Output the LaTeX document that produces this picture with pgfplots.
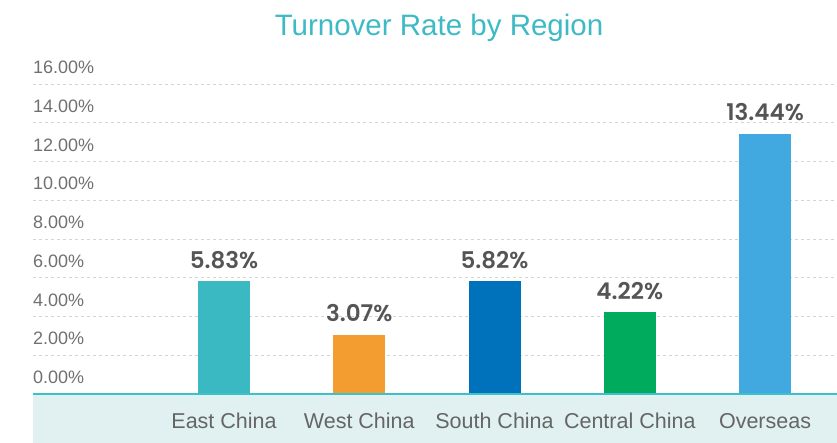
\documentclass[border=0pt]{standalone}
\usepackage{pgfplots}
\pgfplotsset{compat=1.18}
\usepackage{fontspec}
\setmainfont{Liberation Sans}
\newfontfamily\valfont{Poppins}[UprightFont=* SemiBold]
\definecolor{cEast}{HTML}{3BB9C2}
\definecolor{cWest}{HTML}{F39C2F}
\definecolor{cSouth}{HTML}{0071BB}
\definecolor{cCentral}{HTML}{00AB5E}
\definecolor{cOver}{HTML}{42A8E0}
\definecolor{titlec}{HTML}{3DBAC4}
\definecolor{basec}{HTML}{3CC0CA}
\definecolor{bandc}{HTML}{E1F1F2}
\definecolor{tickc}{HTML}{707070}
\definecolor{valc}{HTML}{555555}
\definecolor{gridc}{HTML}{D4D4D4}
\begin{document}
\begin{tikzpicture}
\begin{axis}[
  set layers,
  at={(33pt,0pt)}, anchor=south west,
  scale only axis, width=804pt, height=359pt,
  xmin=-1.412, xmax=4.532,
  ymin=-2.53, ymax=16,
  axis line style={draw=none},
  major tick length=0pt,
  ytick={0,2,4,6,8,10,12,14,16},
  yticklabels={0.00\%,2.00\%,4.00\%,6.00\%,8.00\%,10.00\%,12.00\%,14.00\%,16.00\%},
  yticklabel style={anchor=south west, inner sep=0pt, xshift=0pt, yshift=10pt, font=\fontsize{18}{21}\selectfont, text=tickc},
  xtick={0,1,2,3,4},
  xticklabels={East China,West China,South China,Central China,Overseas},
  xticklabel style={anchor=center, inner sep=0pt, yshift=22pt, font=\fontsize{21.5}{25}\selectfont, text=tickc!90!black},
  ymajorgrids,
  grid style={dashed, gridc, line width=0.8pt},
  ybar, bar width=52pt, bar shift=0pt,
  clip=false,
  nodes near coords={\pgfmathprintnumber[fixed,fixed zerofill,precision=2]{\pgfplotspointmeta}\%},
  nodes near coords style={font=\valfont\fontsize{23}{26}\selectfont, text=valc, anchor=south, yshift=9pt},
  /pgf/number format/assume math mode=true,
]
\begin{pgfonlayer}{axis background}
\fill[bandc] (axis cs:-1.412,-2.53) rectangle (axis cs:4.532,0);
\end{pgfonlayer}
\begin{pgfonlayer}{axis foreground}
\draw[basec, line width=1.3pt] (axis cs:-1.412,0) -- (axis cs:4.532,0);
\end{pgfonlayer}
\addplot[fill=cEast, draw=none] coordinates {(0,5.83)};
\addplot[fill=cWest, draw=none] coordinates {(1,3.07)};
\addplot[fill=cSouth, draw=none] coordinates {(2,5.82)};
\addplot[fill=cCentral, draw=none] coordinates {(3,4.22)};
\addplot[fill=cOver, draw=none] coordinates {(4,13.44)};
\node[anchor=base, text=titlec, font=\fontsize{29.5}{33}\selectfont, inner sep=0pt] at (rel axis cs:0.505,1) [yshift=48pt] {Turnover Rate by Region};
\end{axis}
\pgfresetboundingbox
\useasboundingbox (0,0) rectangle (837pt,443pt);
\end{tikzpicture}
\end{document}
